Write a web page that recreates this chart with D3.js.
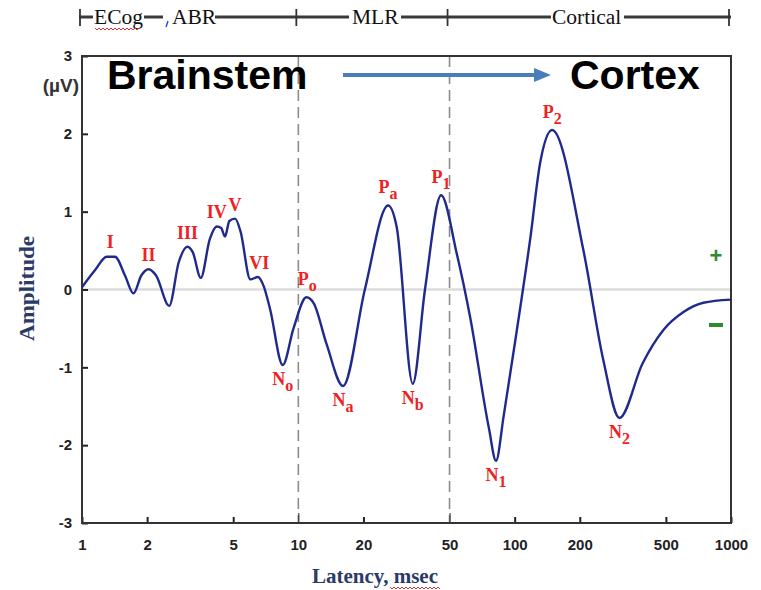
<!DOCTYPE html>
<html>
<head>
<meta charset="utf-8">
<script src="https://cdn.jsdelivr.net/npm/d3@7"></script>
<style>
  body { margin: 0; background: #fff; }
  svg { display: block; }
</style>
</head>
<body>
<svg width="761" height="590"></svg>
<script>
// waveform: latency (ms) and amplitude (uV)
const latency = [1.0, 1.15, 1.3, 1.42, 1.58, 1.73, 1.88, 2.03, 2.2, 2.53, 2.8, 3.07, 3.25, 3.54, 3.9, 4.2, 4.4, 4.58, 4.8, 5.1, 5.4, 6.0, 6.5, 6.9, 7.4, 8.47, 9.5, 10.9, 11.8, 13.5, 16.1, 20.3, 26, 28.5, 33.8, 38.5, 45.7, 54, 62.2, 76, 82, 89, 102, 118, 131, 149, 208, 257, 305, 390, 487, 603, 745, 1000];
const amplitude = [0.03, 0.25, 0.42, 0.42, 0.18, -0.05, 0.18, 0.26, 0.18, -0.21, 0.35, 0.55, 0.48, 0.15, 0.65, 0.81, 0.79, 0.68, 0.88, 0.91, 0.75, 0.13, 0.16, 0.05, -0.25, -0.97, -0.5, -0.1, -0.18, -0.7, -1.24, 0.0, 1.08, 0.8, -1.21, 0.0, 1.21, 0.46, -0.35, -1.78, -2.2, -1.62, -0.55, 0.65, 1.62, 2.05, 0.5, -0.91, -1.65, -0.95, -0.52, -0.29, -0.17, -0.13];

// peak labels
const peakNames = ["I", "II", "III", "IV", "V", "VI", "P", "N", "N", "P", "N", "P", "N", "P", "N"];
const peakSubs = ["", "", "", "", "", "", "o", "o", "a", "a", "b", "1", "1", "2", "2"];
const peakLat = [1.35, 2.03, 3.07, 4.2, 5.1, 6.6, 11.0, 8.47, 16.1, 26, 33.8, 45.7, 82, 149, 305];
const peakAmp = [0.43, 0.26, 0.55, 0.81, 0.91, 0.16, -0.1, -0.97, -1.24, 1.08, -1.21, 1.21, -2.2, 2.05, -1.65];

const xTicks = [1, 2, 5, 10, 20, 50, 100, 200, 500, 1000];
const yTicks = [-3, -2, -1, 0, 1, 2, 3];
const dividers = [10, 50];

const regionNames = ["ECog", "ABR", "MLR", "Cortical"];
const regionBounds = [1, 10, 50, 1000];

const svg = d3.select("svg");
const x = d3.scaleLog().domain([1, 1000]).range([82, 731]);
const y = d3.scaleLinear().domain([-3, 3]).range([523, 56]);

const navy = "#2b3a67";
const red = "#ee2222";
const serifFont = "Liberation Serif, Times New Roman, serif";
const sansFont = "Liberation Sans, Arial, sans-serif";

// zero line
svg.append("line")
  .attr("x1", x(1)).attr("x2", x(1000))
  .attr("y1", y(0)).attr("y2", y(0))
  .attr("stroke", "#dcdcdc").attr("stroke-width", 2.5);

// dashed dividers
svg.selectAll(".divider")
  .data(dividers)
  .enter().append("line")
  .attr("class", "divider")
  .attr("x1", d => x(d)).attr("x2", d => x(d))
  .attr("y1", y(3)).attr("y2", y(-3))
  .attr("stroke", "#8c8c8c").attr("stroke-width", 1.6)
  .attr("stroke-dasharray", "11,6");

// axes
const xAxis = svg.append("g")
  .attr("transform", `translate(0,${y(-3)})`)
  .call(d3.axisBottom(x).tickValues(xTicks).tickFormat(d => String(d)).tickSize(-6).tickPadding(16));
const yAxis = svg.append("g")
  .attr("transform", `translate(${x(1)},0)`)
  .call(d3.axisLeft(y).tickValues(yTicks).tickFormat(d => String(d)).tickSize(-6).tickPadding(10));

[xAxis, yAxis].forEach(a => {
  a.select(".domain").remove();
  a.selectAll("line").attr("stroke", "#222").attr("stroke-width", 2);
  a.selectAll("text")
    .attr("fill", "#222")
    .style("font-family", sansFont)
    .style("font-size", "15px")
    .style("font-weight", "bold");
});
xAxis.selectAll(".tick").filter(d => dividers.includes(d)).select("line").attr("stroke-width", 1).attr("y2", -10);

// frame
svg.append("rect")
  .attr("x", x(1)).attr("y", y(3))
  .attr("width", x(1000) - x(1)).attr("height", y(-3) - y(3))
  .attr("fill", "none").attr("stroke", "#333").attr("stroke-width", 2);

// waveform
const pts = latency.map((d, i) => [d, amplitude[i]]);
svg.append("path")
  .datum(pts)
  .attr("fill", "none")
  .attr("stroke", "#1f2a8c")
  .attr("stroke-width", 2.4)
  .attr("stroke-linejoin", "round")
  .attr("d", d3.line().x(d => x(d[0])).y(d => y(d[1])).curve(d3.curveMonotoneX));

// peak labels
const labels = svg.selectAll(".peak")
  .data(peakNames.map((n, i) => ({ name: n, sub: peakSubs[i], lat: peakLat[i], amp: peakAmp[i] })))
  .enter().append("text")
  .attr("class", "peak")
  .attr("x", d => x(d.lat))
  .attr("y", d => d.amp >= 0 || d.name === "P" ? y(d.amp) - (d.sub ? 12 : 8) : y(d.amp) + 20)
  .attr("text-anchor", "middle")
  .attr("fill", red)
  .style("font-family", serifFont)
  .style("font-weight", "bold")
  .style("font-size", "18px");
labels.append("tspan").text(d => d.name);
labels.append("tspan")
  .attr("dy", 6)
  .style("font-size", "16px")
  .text(d => d.sub);

// +/- markers
svg.append("text").attr("x", 716).attr("y", 263).attr("text-anchor", "middle")
  .attr("fill", "#2e8b2e").style("font-family", sansFont)
  .style("font-weight", "bold").style("font-size", "22px").text("+");
svg.append("rect").attr("x", 709).attr("y", 323).attr("width", 14).attr("height", 4).attr("fill", "#2e8b2e");

// unit label
svg.append("text").attr("x", 79).attr("y", 92).attr("text-anchor", "end")
  .attr("fill", "#333").style("font-family", sansFont).style("font-weight", "bold")
  .style("font-size", "19px").text("(\u00b5V)");

// axis titles
svg.append("text")
  .attr("transform", `translate(34,${y(0) - 1}) rotate(-90)`)
  .attr("text-anchor", "middle")
  .attr("fill", navy)
  .attr("textLength", 105).attr("lengthAdjust", "spacingAndGlyphs")
  .style("font-family", serifFont)
  .style("font-weight", "bold").style("font-size", "21px")
  .text("Amplitude");
svg.append("text")
  .attr("x", 375).attr("y", 583)
  .attr("text-anchor", "middle")
  .attr("fill", navy)
  .attr("textLength", 126).attr("lengthAdjust", "spacingAndGlyphs")
  .style("font-family", serifFont)
  .style("font-weight", "bold").style("font-size", "21px")
  .text("Latency, msec");

// headline: Brainstem -> Cortex
const bold = s => s.style("font-family", sansFont).style("font-weight", "bold").style("font-size", "41px").attr("fill", "#000");
svg.append("text").attr("x", 107).attr("y", 89).text("Brainstem").call(bold);
svg.append("text").attr("x", 570).attr("y", 89).text("Cortex").call(bold);
svg.append("line").attr("x1", 343).attr("x2", 536).attr("y1", 75).attr("y2", 75)
  .attr("stroke", "#4a7ebb").attr("stroke-width", 4);
svg.append("path").attr("d", "M534,68 L551,75 L534,82 Z").attr("fill", "#4a7ebb");

// top region bracket
const by = 17;
const bracketSegs = [[79, 93], [144, 163], [215, 349], [401, 551], [624, 731]];
svg.selectAll(".bseg").data(bracketSegs).enter().append("line")
  .attr("x1", d => d[0]).attr("x2", d => d[1]).attr("y1", by).attr("y2", by)
  .attr("stroke", "#3a3a3a").attr("stroke-width", 3);
svg.selectAll(".btick").data(regionBounds).enter().append("line")
  .attr("x1", d => x(d) - 2).attr("x2", d => x(d) - 2).attr("y1", by - 8).attr("y2", by + 9)
  .attr("stroke", "#333").attr("stroke-width", 1.8);
const regionX = [94, 172, 352, 552];
svg.selectAll(".rname").data(regionNames).enter().append("text")
  .attr("x", (d, i) => regionX[i]).attr("y", 24)
  .attr("fill", "#111")
  .style("font-family", serifFont).style("font-size", "21.5px")
  .text(d => d);
svg.append("line").attr("x1", 168).attr("x2", 166).attr("y1", 21).attr("y2", 27)
  .attr("stroke", "#2255dd").attr("stroke-width", 1.5);

// spell-check squiggles
const squiggle = (x0, x1, yy) => {
  let p = `M${x0},${yy}`;
  for (let xx = x0 + 2, k = 0; xx <= x1; xx += 2, k++) p += ` L${xx},${yy + (k % 2 ? 0 : 2)}`;
  return p;
};
svg.append("path").attr("d", squiggle(95, 140, 28)).attr("fill", "none").attr("stroke", "#e03030").attr("stroke-width", 1);
svg.append("path").attr("d", squiggle(390, 440, 587)).attr("fill", "none").attr("stroke", "#e03030").attr("stroke-width", 1);
</script>
</body>
</html>
